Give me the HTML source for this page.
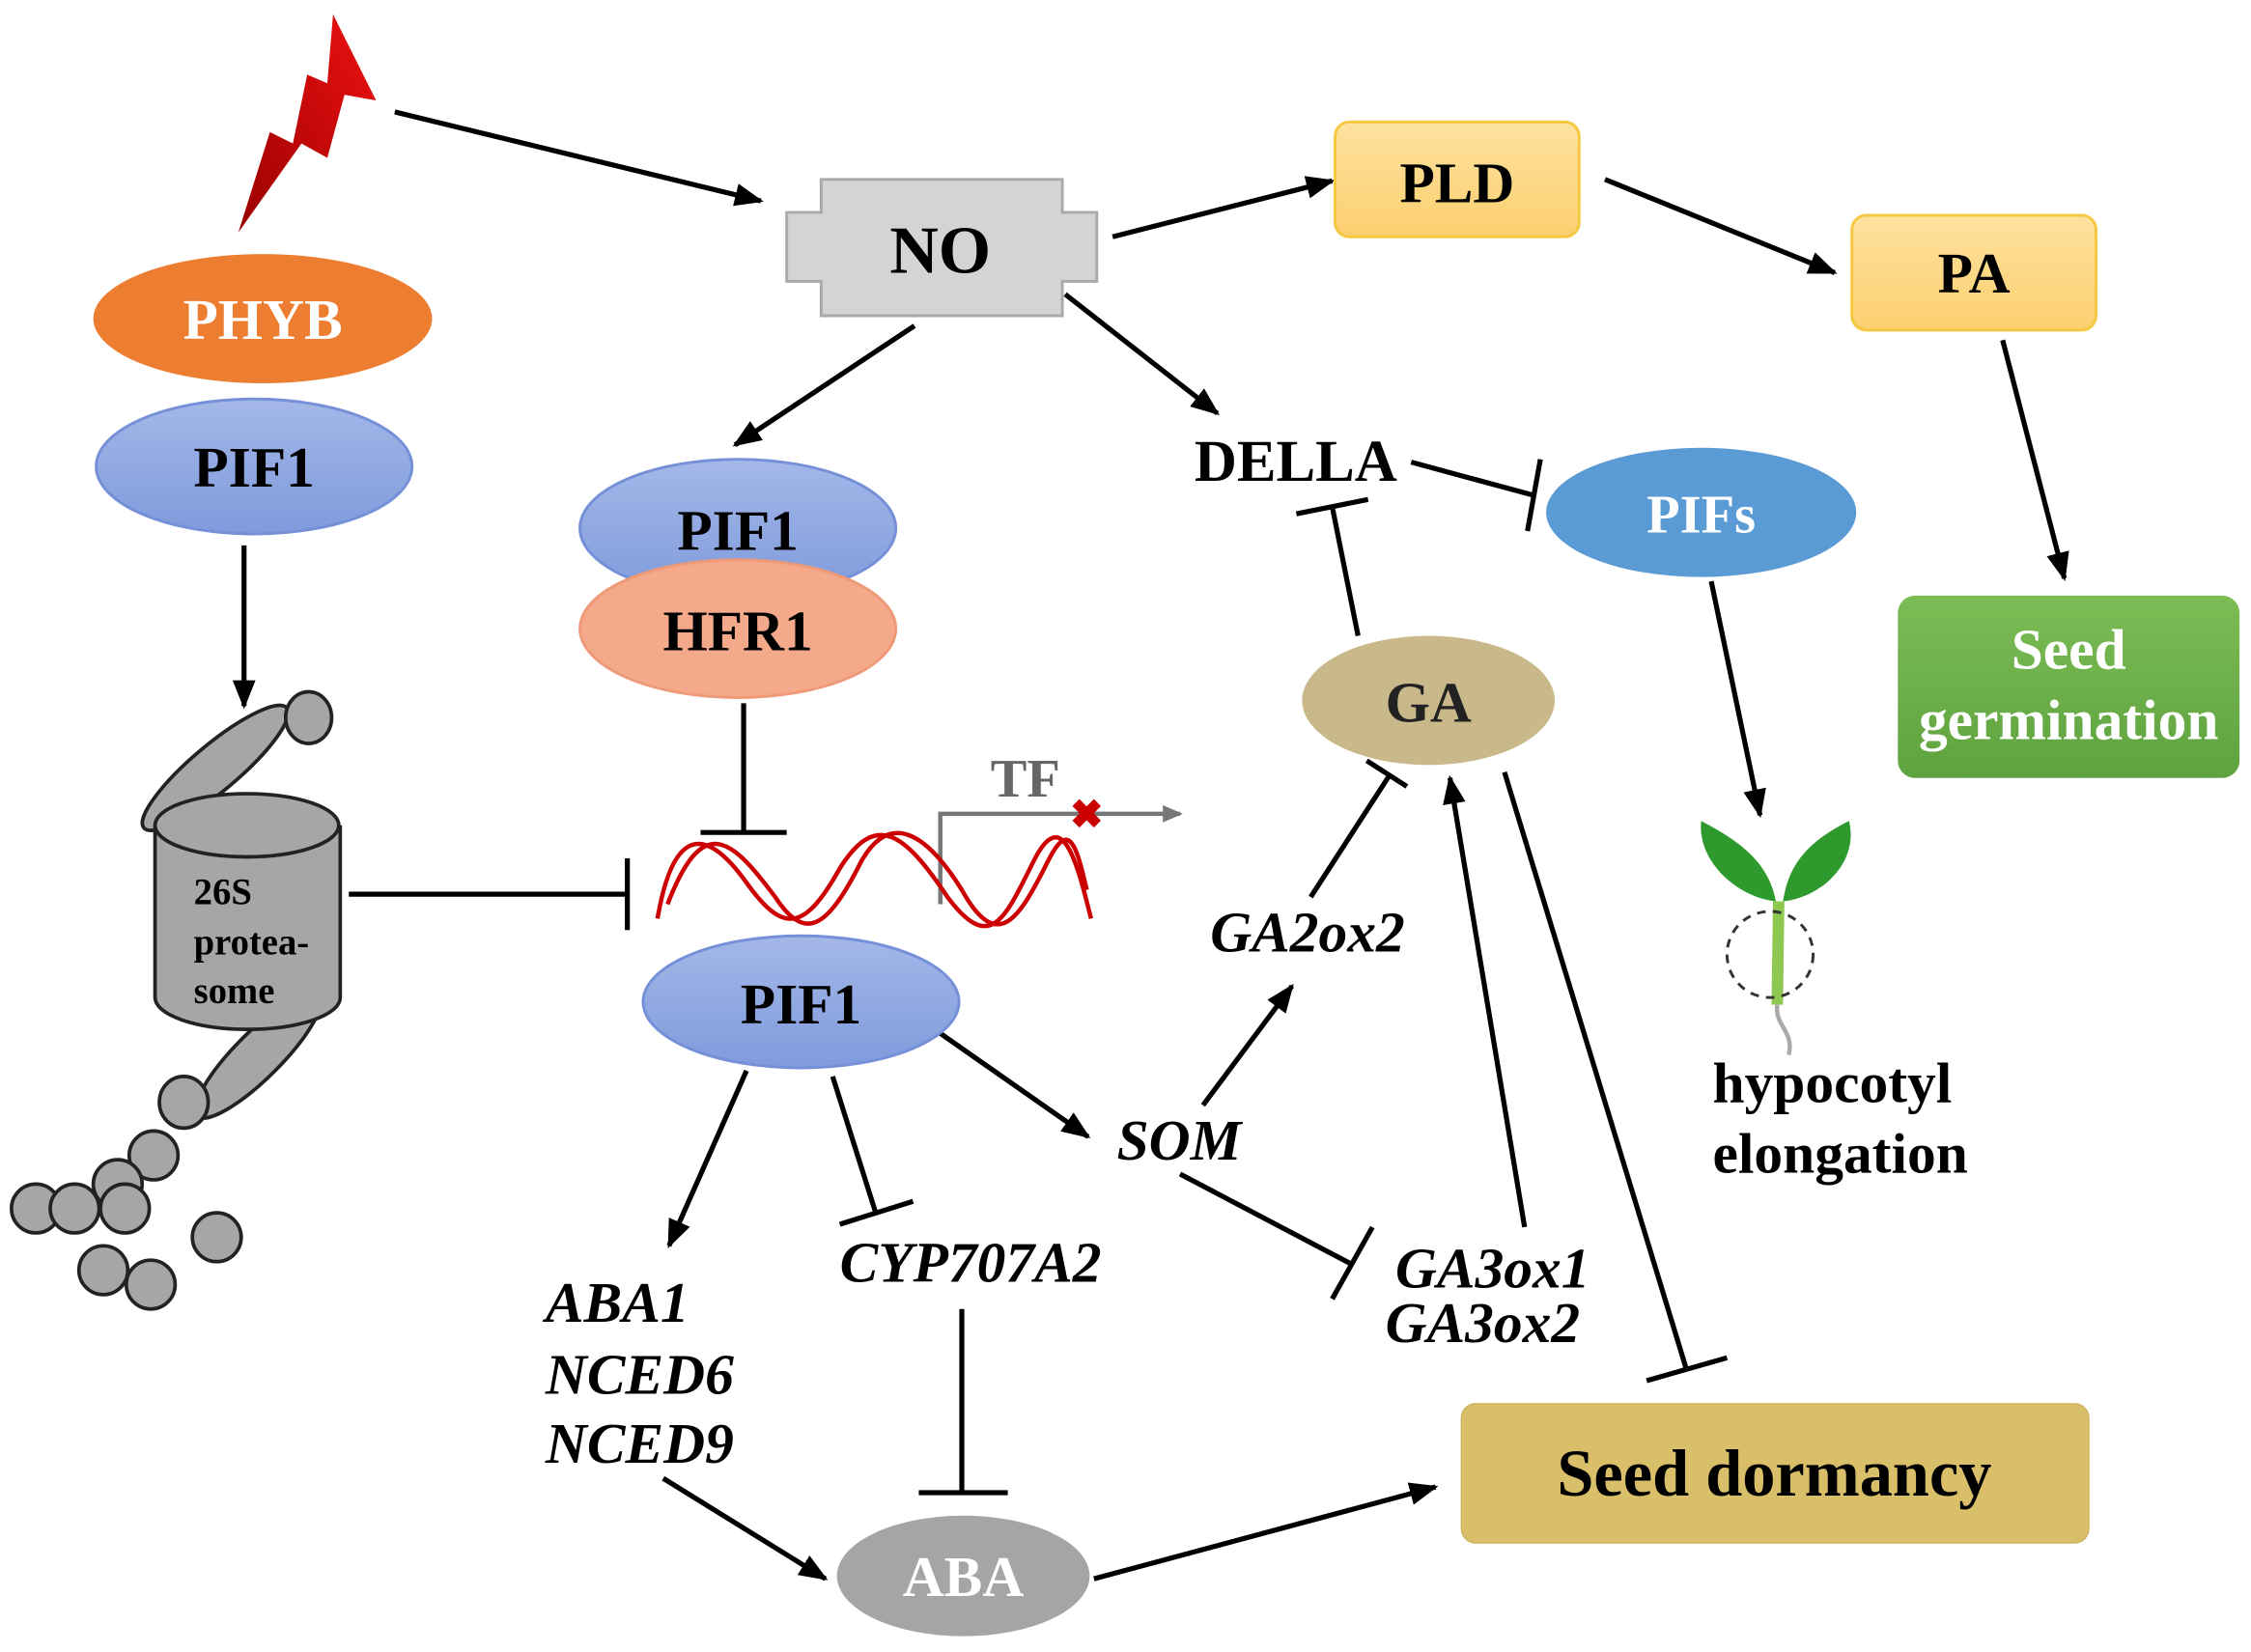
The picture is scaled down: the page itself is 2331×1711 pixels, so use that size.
<!DOCTYPE html>
<html><head><meta charset="utf-8"><style>
html,body{margin:0;padding:0;background:#fff;}
svg{display:block;}
text{font-family:"Liberation Serif",serif;font-weight:bold;}
</style></head><body>
<svg width="2331" height="1711" viewBox="0 0 1568 1151" preserveAspectRatio="none" xmlns="http://www.w3.org/2000/svg">
<defs>
<marker id="ah" viewBox="0 0 20 16" markerWidth="20" markerHeight="16" refX="18" refY="8" orient="auto" markerUnits="userSpaceOnUse"><path d="M0,0 L20,8 L0,16 z" fill="#000"/></marker>
<marker id="ag" viewBox="0 0 14 12" markerWidth="14" markerHeight="12" refX="12" refY="6" orient="auto" markerUnits="userSpaceOnUse"><path d="M0,0 L14,6 L0,12 z" fill="#777"/></marker>
<linearGradient id="lg" x1="0" y1="0" x2="0" y2="1"><stop offset="0" stop-color="#a4b8e8"/><stop offset="1" stop-color="#7f9bdc"/></linearGradient>
<linearGradient id="yg" x1="0" y1="0" x2="0" y2="1"><stop offset="0" stop-color="#fde2a0"/><stop offset="1" stop-color="#fccf6e"/></linearGradient>
<linearGradient id="gg" x1="0" y1="0" x2="0" y2="1"><stop offset="0" stop-color="#7cbc55"/><stop offset="1" stop-color="#5ea33f"/></linearGradient>
<linearGradient id="rg" x1="1" y1="0" x2="0" y2="1"><stop offset="0" stop-color="#ee1111"/><stop offset="1" stop-color="#9a0000"/></linearGradient>
</defs>
<g stroke="#000" stroke-width="3.5" fill="none">
<line x1="275" y1="78" x2="530" y2="140" marker-end="url(#ah)"/>
<line x1="775" y1="165" x2="928" y2="126" marker-end="url(#ah)"/>
<line x1="1118" y1="125" x2="1278" y2="190" marker-end="url(#ah)"/>
<line x1="1395" y1="237" x2="1438" y2="403" marker-end="url(#ah)"/>
<line x1="170" y1="380" x2="170" y2="492" marker-end="url(#ah)"/>
<line x1="637" y1="227" x2="512" y2="310" marker-end="url(#ah)"/>
<line x1="742" y1="205" x2="848" y2="288" marker-end="url(#ah)"/>
<line x1="520" y1="746" x2="466" y2="868" marker-end="url(#ah)"/>
<line x1="655" y1="720" x2="758" y2="792" marker-end="url(#ah)"/>
<line x1="838" y1="770" x2="900" y2="687" marker-end="url(#ah)"/>
<line x1="1062" y1="855" x2="1010" y2="542" marker-end="url(#ah)"/>
<line x1="462" y1="1030" x2="575" y2="1100" marker-end="url(#ah)"/>
<line x1="762" y1="1100" x2="1000" y2="1036" marker-end="url(#ah)"/>
<line x1="1192" y1="405" x2="1226" y2="568" marker-end="url(#ah)"/>
<line x1="243" y1="623" x2="437" y2="623"/><line x1="437" y1="598" x2="437" y2="648"/>
<line x1="518" y1="490" x2="518" y2="580"/><line x1="488" y1="580" x2="548" y2="580"/>
<line x1="580" y1="750" x2="610" y2="845"/><line x1="585" y1="853" x2="636" y2="837"/>
<line x1="670" y1="912" x2="670" y2="1040"/><line x1="640" y1="1040" x2="702" y2="1040"/>
<line x1="822" y1="818" x2="940" y2="880"/><line x1="928" y1="905" x2="956" y2="855"/>
<line x1="913" y1="625" x2="968" y2="540"/><line x1="952" y1="530" x2="980" y2="548"/>
<line x1="946" y1="443" x2="928" y2="353"/><line x1="903" y1="358" x2="953" y2="348"/>
<line x1="983" y1="322" x2="1068" y2="345"/><line x1="1064" y1="370" x2="1073" y2="320"/>
<line x1="1048" y1="538" x2="1175" y2="955"/><line x1="1147" y1="962" x2="1203" y2="946"/>
</g>
<polyline points="655,630 655,567 822,567" fill="none" stroke="#777" stroke-width="3" marker-end="url(#ag)"/>
<text x="757" y="577" font-size="28" fill="#c00" text-anchor="middle">✖</text>
<text x="690" y="555" font-size="38" fill="#666">TF</text>
<g fill="none" stroke="#c00" stroke-width="3">
<path d="M458,640 C470,570 495,580 520,615 C545,650 560,650 585,605 C610,565 630,580 660,625 C690,665 700,640 720,600 C740,560 750,600 760,640"/>
<path d="M465,630 C490,565 510,585 540,625 C560,655 575,650 600,600 C620,565 645,580 670,620 C695,665 710,640 730,600 C745,570 750,590 757,620"/>
</g>
<polygon points="232,10 262,70 240,66 228,110 210,100 166,162 188,92 204,100 214,52 228,58" fill="url(#rg)"/>
<path d="M572,125 H740 V148 H764 V196 H740 V220 H572 V196 H548 V148 H572 Z" fill="#d4d4d4" stroke="#aaa" stroke-width="2"/>
<text x="655" y="190" font-size="47" text-anchor="middle">NO</text>
<rect x="930" y="85" width="170" height="80" rx="10" fill="url(#yg)" stroke="#f5c842" stroke-width="2"/>
<text x="1015" y="141" font-size="40" text-anchor="middle">PLD</text>
<rect x="1290" y="150" width="170" height="80" rx="10" fill="url(#yg)" stroke="#f5c842" stroke-width="2"/>
<text x="1375" y="204" font-size="40" text-anchor="middle">PA</text>
<rect x="1322" y="415" width="238" height="127" rx="12" fill="url(#gg)"/>
<text x="1441" y="466" font-size="40" fill="#fff" text-anchor="middle">Seed</text>
<text x="1441" y="515" font-size="40" fill="#fff" text-anchor="middle">germination</text>
<ellipse cx="183" cy="222" rx="118" ry="45" fill="#ed7d31"/>
<text x="183" y="236" font-size="40" fill="#fff" text-anchor="middle">PHYB</text>
<ellipse cx="177" cy="325" rx="110" ry="47" fill="url(#lg)" stroke="#7590d8" stroke-width="2"/>
<text x="177" y="339" font-size="40" text-anchor="middle">PIF1</text>
<ellipse cx="514" cy="368" rx="110" ry="48" fill="url(#lg)" stroke="#7590d8" stroke-width="2"/>
<text x="514" y="383" font-size="40" text-anchor="middle">PIF1</text>
<ellipse cx="514" cy="438" rx="110" ry="48" fill="#f4a98a" stroke="#ee9a78" stroke-width="2"/>
<text x="514" y="453" font-size="40" text-anchor="middle">HFR1</text>
<ellipse cx="558" cy="698" rx="110" ry="46" fill="url(#lg)" stroke="#7590d8" stroke-width="2"/>
<text x="558" y="713" font-size="40" text-anchor="middle">PIF1</text>
<ellipse cx="671" cy="1098" rx="88" ry="42" fill="#a6a4a4"/>
<text x="671" y="1112" font-size="40" fill="#fff" text-anchor="middle">ABA</text>
<rect x="1018" y="978" width="437" height="97" rx="10" fill="#d9bf6a" stroke="#d0b45c"/>
<text x="1236" y="1042" font-size="46" text-anchor="middle">Seed dormancy</text>
<ellipse cx="995" cy="488" rx="88" ry="45" fill="#c8b88a"/>
<text x="995" y="503" font-size="40" fill="#222" text-anchor="middle">GA</text>
<ellipse cx="1185" cy="357" rx="108" ry="45" fill="#5b9bd5"/>
<text x="1185" y="371" font-size="38" fill="#fff" text-anchor="middle">PIFs</text>
<text x="832" y="335" font-size="41">DELLA</text>
<g font-style="italic" font-size="40">
<text x="380" y="921">ABA1</text><text x="380" y="971">NCED6</text><text x="380" y="1019">NCED9</text>
<text x="585" y="893">CYP707A2</text>
<text x="778" y="808">SOM</text>
<text x="843" y="663">GA2ox2</text>
<text x="972" y="897">GA3ox1</text><text x="965" y="935">GA3ox2</text>
</g>
<text x="1193" y="768" font-size="40">hypocotyl</text>
<text x="1193" y="817" font-size="40">elongation</text>
<path d="M1237,628 C1210,625 1182,600 1185,572 C1210,585 1232,600 1237,628 Z" fill="#2e9a2e"/>
<path d="M1242,628 C1270,625 1295,600 1288,572 C1262,585 1246,600 1242,628 Z" fill="#2e9a2e"/>
<line x1="1239" y1="628" x2="1238" y2="700" stroke="#8fc850" stroke-width="8"/>
<path d="M1238,700 C1236,715 1250,718 1246,735" stroke="#aaa" stroke-width="3" fill="none"/>
<ellipse cx="1233" cy="665" rx="30" ry="30" fill="none" stroke="#333" stroke-width="2" stroke-dasharray="6,5"/>
<g fill="#a6a6a6" stroke="#222" stroke-width="2.5">
<ellipse cx="150" cy="535" rx="65" ry="16" transform="rotate(-40 150 535)"/>
<ellipse cx="215" cy="500" rx="16" ry="18"/>
<ellipse cx="180" cy="735" rx="60" ry="16" transform="rotate(-45 180 735)"/>
<ellipse cx="128" cy="768" rx="17" ry="18"/>
<path d="M108,575 V695 A64,22 0 0 0 237,695 V575"/>
<ellipse cx="172" cy="575" rx="64" ry="22"/>
<circle cx="107" cy="805" r="17"/><circle cx="82" cy="825" r="17"/><circle cx="25" cy="842" r="17"/><circle cx="52" cy="842" r="17"/><circle cx="87" cy="842" r="17"/>
<circle cx="151" cy="862" r="17"/><circle cx="72" cy="885" r="17"/><circle cx="105" cy="895" r="17"/>
</g>
<text x="135" y="630" font-size="26">26S</text>
<text x="135" y="665" font-size="26">protea-</text>
<text x="135" y="699" font-size="26">some</text>
</svg>
</body></html>
